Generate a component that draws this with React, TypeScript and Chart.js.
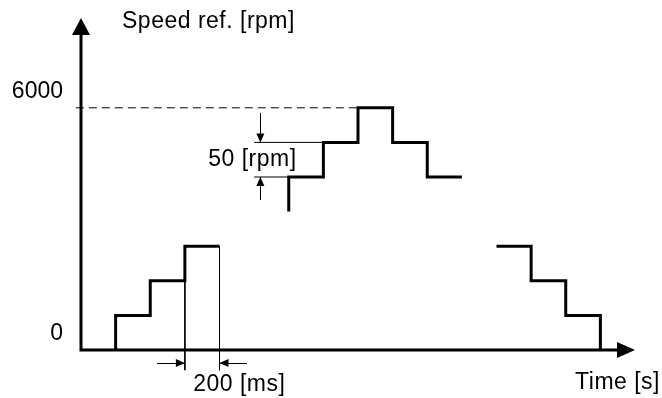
import React, { useEffect, useRef } from "react";
import { Chart, registerables } from "chart.js";

Chart.register(...registerables);

// Speed reference steps (time in ms, speed in rpm)
const riseTime = [200, 400, 600, 800];
const riseSpeed = [0, 857, 1714, 2571];
const peakTime = [1200, 1400, 1600, 1800, 2000, 2200];
const peakSpeed = [3429, 4286, 5143, 6000, 5143, 4286];
const fallTime = [2400, 2600, 2800, 3000];
const fallSpeed = [2571, 1714, 857, 0];

// Reference / dimension lines
const maxLineTime = [-30, 1600];
const maxLineSpeed = [6000, 6000];
const stepWidthTimes = [600, 800];
const stepWidthTop = 2571;
const stepWidthBottom = -500;
const stepHeightSpeeds = [5143, 4286];
const stepHeightEnds = [1400, 1200];
const stepHeightStart = 1000;

// Dimension arrows [fromX, fromY, toX, toY]
const widthArrows = [
  [440, -320, 600, -320],
  [960, -320, 800, -320],
];
const heightArrows = [
  [1036, 5880, 1036, 5143],
  [1036, 3720, 1036, 4286],
];

const yTickValues = [0, 6000];
const yTitle = "Speed ref. [rpm]";
const xTitle = "Time [s]";
const stepHeightLabel = "50 [rpm]";
const stepHeightLabelPos = [990, 4706];
const stepWidthLabel = "200 [ms]";
const stepWidthLabelPos = [914, -870];

const FAMILY = '"Liberation Sans", Arial, sans-serif';
const FONT = "23px " + FAMILY;

const pts = (xs: number[], ys: number[]) => xs.map((x, i) => ({ x, y: ys[i] }));

function head(ctx: CanvasRenderingContext2D, x1: number, y1: number, x2: number, y2: number, len: number, half: number) {
  const a = Math.atan2(y2 - y1, x2 - x1);
  ctx.beginPath();
  ctx.moveTo(x2, y2);
  ctx.lineTo(x2 - len * Math.cos(a) + half * Math.sin(a), y2 - len * Math.sin(a) - half * Math.cos(a));
  ctx.lineTo(x2 - len * Math.cos(a) - half * Math.sin(a), y2 - len * Math.sin(a) + half * Math.cos(a));
  ctx.closePath();
  ctx.fill();
}

const decorPlugin = {
  id: "decor",
  afterDatasetsDraw(chart: any) {
    const { ctx, chartArea: ca, scales } = chart;
    const xs = scales.x;
    const ys = scales.y;
    ctx.save();
    ctx.fillStyle = "#000";
    ctx.strokeStyle = "#000";

    // axes
    const ox = xs.getPixelForValue(0);
    const oy = ys.getPixelForValue(0);
    ctx.lineWidth = 3;
    ctx.beginPath();
    ctx.moveTo(ox, oy + 1.5);
    ctx.lineTo(ox, ca.top + 14);
    ctx.moveTo(ox - 1.5, oy);
    ctx.lineTo(ca.right - 14, oy);
    ctx.stroke();
    head(ctx, ox, oy, ox, ca.top, 17, 9);
    head(ctx, ox, oy, ca.right, oy, 18, 8);

    // dimension arrows
    ctx.lineWidth = 1;
    [...widthArrows, ...heightArrows].forEach(([a, b, c, d]) => {
      const x1 = xs.getPixelForValue(a);
      const y1 = ys.getPixelForValue(b);
      const x2 = xs.getPixelForValue(c);
      const y2 = ys.getPixelForValue(d);
      const vx = x1 === x2 ? 0.5 : 0;
      const vy = y1 === y2 ? 0.5 : 0;
      ctx.beginPath();
      ctx.moveTo(Math.round(x1) + vx, Math.round(y1) + vy);
      ctx.lineTo(Math.round(x2) + vx, Math.round(y2) + vy);
      ctx.stroke();
      head(ctx, x1, y1, x2, y2, 9, 4);
    });

    // texts
    ctx.font = FONT;
    (ctx as any).letterSpacing = "0.5px";
    ctx.textBaseline = "middle";
    ctx.textAlign = "left";
    ctx.fillText(yTitle, ca.left + 41, ca.top + 4);
    ctx.textAlign = "right";
    ctx.fillText(xTitle, ca.right + 25, ca.bottom + 33);
    ctx.textAlign = "center";
    ctx.fillText(stepHeightLabel, xs.getPixelForValue(stepHeightLabelPos[0]), ys.getPixelForValue(stepHeightLabelPos[1]));
    ctx.fillText(stepWidthLabel, xs.getPixelForValue(stepWidthLabelPos[0]), ys.getPixelForValue(stepWidthLabelPos[1]));
    (ctx as any).letterSpacing = "0px";
    ctx.restore();
  },
};

export default function App() {
  const ref = useRef<HTMLCanvasElement>(null);
  useEffect(() => {
    const thick = { borderColor: "#000", borderWidth: 3, pointRadius: 0, showLine: true, fill: false, clip: false as any };
    const thin = { borderColor: "#000", borderWidth: 1, pointRadius: 0, showLine: true, fill: false, clip: false as any };
    const chart = new Chart(ref.current!, {
      type: "scatter",
      data: {
        datasets: [
          { ...thick, data: pts(riseTime, riseSpeed), stepped: "after" },
          { ...thick, data: pts(peakTime, peakSpeed), stepped: "after" },
          { ...thick, data: pts(fallTime, fallSpeed), stepped: "before" },
          { ...thin, data: pts(maxLineTime, maxLineSpeed), borderDash: [8, 5] },
          ...stepWidthTimes.map((t) => ({ ...thin, data: [{ x: t, y: stepWidthTop }, { x: t, y: stepWidthBottom }] })),
          ...stepHeightSpeeds.map((s, i) => ({ ...thin, data: [{ x: stepHeightStart, y: s }, { x: stepHeightEnds[i], y: s }] })),
        ] as any,
      },
      options: {
        animation: false,
        responsive: false,
        layout: { padding: { top: 18, right: 27, bottom: 48, left: 0 } },
        plugins: { legend: { display: false }, tooltip: { enabled: false } },
        scales: {
          x: { type: "linear", min: 0, max: 3200, display: false },
          y: {
            type: "linear",
            min: 0,
            max: 8225,
            grid: { display: false, drawTicks: false },
            border: { display: false },
            afterBuildTicks: (s: any) => {
              s.ticks = yTickValues.map((v) => ({ value: v }));
            },
            afterFit: (s: any) => {
              s.width = 81;
              s.paddingTop = 0;
              s.paddingBottom = 0;
            },
            ticks: {
              padding: 18,
              labelOffset: -16,
              color: "#000",
              font: { family: FAMILY, size: 23 },
              callback: (v: any) => String(v),
            },
          },
        },
      },
      plugins: [decorPlugin],
    });
    return () => chart.destroy();
  }, []);
  return (
    <div style={{ position: "fixed", left: 0, top: 0, width: 662, height: 398, background: "#fff" }}>
      <canvas ref={ref} width={662} height={398} style={{ display: "block" }} />
    </div>
  );
}
